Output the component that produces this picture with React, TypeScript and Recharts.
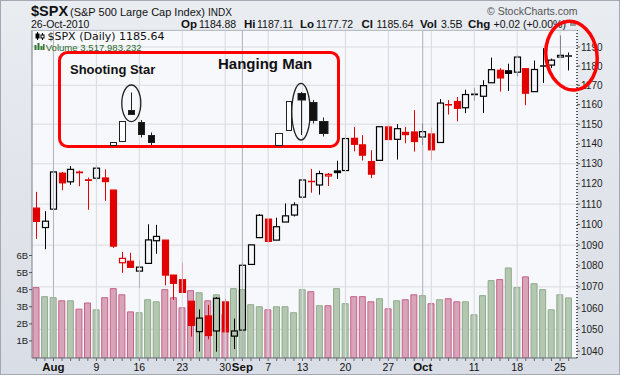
import React from "react";
import { ComposedChart, Bar, XAxis, YAxis, CartesianGrid, ReferenceLine, Cell } from "recharts";

const SANS = '"Liberation Sans", Arial, Helvetica, sans-serif';
const DEJA = '"DejaVu Sans", Verdana, sans-serif';
const RED = "#e20000";

// trading days 29 Jul - 26 Oct 2010
const days = [
  "7/29", "7/30", "8/2", "8/3", "8/4", "8/5", "8/6", "8/9", "8/10", "8/11",
  "8/12", "8/13", "8/16", "8/17", "8/18", "8/19", "8/20", "8/23", "8/24", "8/25",
  "8/26", "8/27", "8/30", "8/31", "9/1", "9/2", "9/3", "9/7", "9/8", "9/9",
  "9/10", "9/13", "9/14", "9/15", "9/16", "9/17", "9/20", "9/21", "9/22", "9/23",
  "9/24", "9/27", "9/28", "9/29", "9/30", "10/1", "10/4", "10/5", "10/6", "10/7",
  "10/8", "10/11", "10/12", "10/13", "10/14", "10/15", "10/18", "10/19", "10/20", "10/21",
  "10/22", "10/25", "10/26",
];
const opens = [
  1108, 1098.5, 1107.5, 1125.3, 1121, 1125.6, 1122.1, 1122.8, 1122.9, 1116.9,
  1081.5, 1082.2, 1077.5, 1081.2, 1092.1, 1092.4, 1075.6, 1073.4, 1063.2, 1049,
  1056.3, 1049.3, 1062.9, 1046.9, 1049.7, 1080.7, 1093.6, 1102.6, 1092.4, 1101.2,
  1104.6, 1113.4, 1121.2, 1119.4, 1123.9, 1126.4, 1126.6, 1142.8, 1139.5, 1131.1,
  1131.7, 1148.6, 1142.3, 1145.8, 1146, 1143.5, 1145, 1140.7, 1159.8, 1161.6,
  1158.4, 1165.3, 1164.3, 1171.3, 1177.8, 1177.5, 1176.8, 1178.6, 1166.7, 1179.8,
  1180.5, 1184.7, 1184.9,
];
const highs = [
  1116, 1106.5, 1127.3, 1125.9, 1128.8, 1126.6, 1123.1, 1129.2, 1127.2, 1116.9,
  1086.7, 1086.3, 1082.6, 1100.1, 1099.8, 1092.4, 1075.6, 1081.6, 1063.2, 1059.4,
  1061.5, 1065.2, 1064.4, 1055.1, 1081.3, 1090.1, 1105.1, 1102.6, 1103.3, 1110.3,
  1110.9, 1123.9, 1127.4, 1126.5, 1125.4, 1131.5, 1144.9, 1148.6, 1144.4, 1136.8,
  1148.9, 1149.9, 1150, 1148.6, 1157.2, 1150.3, 1148.2, 1162.8, 1162.3, 1163.9,
  1167.7, 1168.7, 1172.6, 1184.4, 1178.9, 1181.2, 1185.5, 1178.6, 1182.9, 1189.4,
  1183.9, 1196.1, 1187.1,
];
const lows = [
  1093, 1088, 1107.5, 1116.8, 1119.5, 1118.8, 1107.2, 1120.9, 1111.6, 1088.6,
  1076.7, 1079, 1069.5, 1081.2, 1085.8, 1070.7, 1063.9, 1067.1, 1046.7, 1039.8,
  1045.4, 1039.7, 1048.8, 1040.9, 1049.7, 1080.4, 1093.6, 1091.2, 1092.4, 1101.2,
  1103.9, 1113.4, 1115.6, 1114.6, 1118.9, 1122.4, 1126.6, 1136.2, 1131.6, 1122.8,
  1131.7, 1142, 1132.1, 1140.3, 1136.1, 1139.4, 1131.9, 1140.7, 1154.9, 1151.4,
  1155.6, 1162, 1155.7, 1171.3, 1166.7, 1167.1, 1174.6, 1159.7, 1166.7, 1171.2,
  1179, 1184.7, 1177.7,
];
const closes = [
  1101.5, 1101.6, 1125.9, 1120.5, 1127.2, 1125.8, 1121.6, 1127.8, 1121.1, 1089.5,
  1083.6, 1079.3, 1079.4, 1092.5, 1094.2, 1075.6, 1071.7, 1067.4, 1051.9, 1055.3,
  1047.2, 1064.6, 1048.9, 1049.3, 1080.3, 1090.1, 1104.5, 1091.8, 1098.9, 1104.2,
  1109.6, 1121.9, 1121.1, 1125.1, 1124.7, 1125.6, 1142.7, 1139.8, 1134.3, 1124.8,
  1148.7, 1142.2, 1147.7, 1144.7, 1141.2, 1146.2, 1137, 1160.8, 1160, 1158.1,
  1165.2, 1165.3, 1169.8, 1178.1, 1173.8, 1176.2, 1184.7, 1165.9, 1178.2, 1180.3,
  1183.1, 1185.62, 1185.64,
];
// volume in billions of shares
const volumes = [
  4.12, 3.59, 3.53, 3.35, 3.35, 2.86, 3.22, 2.82, 3.53, 4.06,
  3.7, 2.7, 2.65, 3.41, 3.29, 4.0, 3.53, 2.94, 3.94, 3.82,
  3.35, 3.7, 2.55, 4.06, 4.0, 3.12, 3.0, 2.82, 3.0, 3.0,
  2.65, 4.0, 3.88, 3.06, 3.06, 4.06, 3.18, 3.59, 3.59, 3.29,
  3.47, 2.88, 3.35, 3.41, 3.7, 3.65, 3.18, 3.41, 3.47, 3.29,
  3.29, 2.53, 3.65, 4.53, 4.59, 5.27, 4.12, 4.75, 4.35, 4.0,
  2.82, 3.7, 3.52,
];

const priceTicks = [1040, 1050, 1060, 1070, 1080, 1090, 1100, 1110, 1120, 1130, 1140, 1150, 1160, 1170, 1180, 1190];
const volTicks = [1, 2, 3, 4, 5, 6];
const labelDays = ["8/2", "8/9", "8/16", "8/23", "8/30", "9/1", "9/7", "9/13", "9/20", "9/27", "10/1", "10/11", "10/18", "10/25"];
const labelText = ["Aug", "9", "16", "23", "30", "Sep", "7", "13", "20", "27", "Oct", "11", "18", "25"];
const weekLines = ["8/2", "8/9", "8/16", "8/23", "8/30", "9/1", "9/7", "9/13", "9/20", "9/27", "10/1", "10/4", "10/11", "10/18", "10/25"];
const monthLines = ["8/2", "9/1", "10/1"];

const rows = days.map((d, i) => ({
  d,
  o: opens[i],
  h: highs[i],
  l: lows[i],
  c: closes[i],
  pc: i > 0 ? closes[i - 1] : opens[i],
  v: volumes[i],
}));

function Candle(props: any) {
  const { x, y, width, height, payload } = props;
  if (!payload || !(height > 0)) return <g />;
  const { o, h, l, c, pc } = payload;
  const span = Math.log(h) - Math.log(l);
  // position inside the bar's [low, high] pixel range, log scale
  const py = (v: number) => y + (height * (Math.log(h) - Math.log(v))) / span;
  const cx = Math.round(x + width / 2) + 0.5;
  const color = c < pc ? RED : "#000";
  const filled = c < o;
  const top = py(Math.max(o, c));
  const bot = py(Math.min(o, c));
  return (
    <g>
      <line x1={cx} x2={cx} y1={y} y2={top} stroke={color} />
      <line x1={cx} x2={cx} y1={bot} y2={y + height} stroke={color} />
      {bot - top < 1.5 ? (
        <line x1={cx - 3.5} x2={cx + 3.5} y1={(top + bot) / 2} y2={(top + bot) / 2} stroke={color} strokeWidth={1.6} />
      ) : (
        <rect x={cx - 3} y={top} width={6} height={bot - top} fill={filled ? color : "none"} stroke={color} strokeWidth={1.2} />
      )}
    </g>
  );
}

function DateTick(props: any) {
  const { x, y, payload } = props;
  const i = labelDays.indexOf(payload.value);
  if (i < 0) return <g />;
  const lab = labelText[i];
  const month = isNaN(Number(lab));
  return (
    <text x={x} y={y} dy={8} textAnchor="middle" fontFamily={SANS} fontSize={month ? 11.5 : 10.5} fontWeight={month ? 700 : 400} fill="#111">
      {lab}
    </text>
  );
}

function Overlay() {
  return (
    <svg width={620} height={375} style={{ position: "absolute", left: 0, top: 0, pointerEvents: "none" }}>
      {/* header */}
      <text x={31} y={16} fontFamily={SANS} fontSize={14.5} fontWeight={700} fill="#111">$SPX</text>
      <text x={70} y={16} fontFamily={SANS} fontSize={11} fill="#111">(S&amp;P 500 Large Cap Index)</text>
      <text x={208} y={16} fontFamily={SANS} fontSize={10} fill="#111">INDX</text>
      <text x={487} y={15} fontFamily={SANS} fontSize={10.5} fill="#555">© StockCharts.com</text>
      <rect x={570} y={23} width={6} height={3} fill="#999" />
      <text x={31} y={28} fontFamily={SANS} fontSize={10.5} fill="#111">26-Oct-2010</text>
      <g fontFamily={SANS} fill="#111">
        <text x={181} y={28} fontSize={11.5} fontWeight={700}>Op</text>
        <text x={199} y={28} fontSize={10.5}>1184.88</text>
        <text x={244} y={28} fontSize={11.5} fontWeight={700}>Hi</text>
        <text x={257} y={28} fontSize={10.5}>1187.11</text>
        <text x={300} y={28} fontSize={11.5} fontWeight={700}>Lo</text>
        <text x={316} y={28} fontSize={10.5}>1177.72</text>
        <text x={361.5} y={28} fontSize={11.5} fontWeight={700}>Cl</text>
        <text x={376.5} y={28} fontSize={10.5}>1185.64</text>
        <text x={420} y={28} fontSize={11.5} fontWeight={700}>Vol</text>
        <text x={441} y={28} fontSize={10.5}>3.5B</text>
        <text x={468} y={28} fontSize={11.5} fontWeight={700}>Chg</text>
        <text x={493.5} y={28} fontSize={10.5}>+0.02 (+0.00%)</text>
      </g>
      <line x1={32} x2={577} y1={30.5} y2={30.5} stroke="#b9bdc6" />

      {/* legend */}
      <g stroke="#000" fill="#000">
        <line x1={37.5} x2={37.5} y1={32} y2={40} />
        <rect x={36} y={34} width={3} height={4} />
        <line x1={42.5} x2={42.5} y1={33} y2={40} />
        <rect x={41} y={35} width={3} height={3} fill="#fff" />
      </g>
      <text x={47.5} y={40} fontFamily={DEJA} fontSize={11} fill="#111">$SPX (Daily) 1185.64</text>
      <g fill="#2f7a2f">
        <rect x={34.5} y={45} width={2} height={5} />
        <rect x={37.5} y={43} width={2} height={7} />
        <rect x={40.5} y={46} width={2} height={4} />
        <rect x={43} y={44} width={1.5} height={6} />
      </g>
      <text x={45.7} y={50.5} fontFamily={SANS} fontSize={9.6} fill="#2d6a2d">Volume 3,517,983,232</text>

      {/* annotation box */}
      <rect x={59.5} y={52.5} width={279} height={94} rx={8} fill="none" stroke="#ff0000" strokeWidth={3} />
      <text x={70} y={73.5} fontFamily={SANS} fontSize={13} fontWeight={700} fill="#111">Shooting Star</text>
      <text x={218} y={69} fontFamily={SANS} fontSize={15} fontWeight={700} fill="#111">Hanging Man</text>
      <g stroke="#222" strokeWidth={1}>
        {/* shooting star sketch */}
        <rect x={110.5} y={142.5} width={6} height={3} fill="#fff" />
        <rect x={119.5} y={121.5} width={6} height={20} fill="#fff" />
        <line x1={131.5} x2={131.5} y1={92.5} y2={111} />
        <rect x={128.5} y={110.5} width={6} height={4} fill="#111" />
        <ellipse cx={131.3} cy={103.3} rx={9.5} ry={18.3} fill="none" strokeWidth={1.3} />
        <line x1={141.5} x2={141.5} y1={120} y2={137.5} />
        <rect x={138.5} y={122.5} width={6} height={12} fill="#111" />
        <line x1={151.5} x2={151.5} y1={132.5} y2={145} />
        <rect x={148.5} y={135.5} width={6} height={7} fill="#111" />
        {/* hanging man sketch */}
        <rect x={275.5} y={133.5} width={7} height={12} fill="#fff" />
        <rect x={286.5} y={101.5} width={5} height={29} fill="#fff" />
        <line x1={301.5} x2={301.5} y1={92} y2={135} />
        <rect x={298} y={93.5} width={7.5} height={6.5} fill="#111" />
        <ellipse cx={301} cy={111.7} rx={9.2} ry={28.3} fill="none" strokeWidth={1.3} />
        <line x1={313.5} x2={313.5} y1={100} y2={123.5} />
        <rect x={309.5} y={102.5} width={7.5} height={18} fill="#111" />
        <line x1={323.5} x2={323.5} y1={117.5} y2={136.5} />
        <rect x={319.5} y={121.5} width={8.5} height={12} fill="#111" />
      </g>

      {/* highlight of the last two sessions */}
      <ellipse cx={571.5} cy={55.7} rx={25.5} ry={34.5} transform="rotate(-8 571.5 55.7)" fill="none" stroke="#ff0000" strokeWidth={3.5} />

      <rect x={0.5} y={0.5} width={619} height={374} fill="none" stroke="#a3a8b3" />
    </svg>
  );
}

export default function App() {
  return (
    <div style={{ position: "absolute", left: 0, top: 0, width: 620, height: 375, overflow: "hidden", background: "linear-gradient(#e9ecf1, #d9dde5)" }}>
      <ComposedChart width={620} height={375} data={rows} margin={{ top: 30, right: 0, bottom: 0, left: 0 }}>
        <CartesianGrid xAxisId="main" yAxisId="price" vertical={false} stroke="#d8dbe1" fill="#f7f8fb" />
        <XAxis
          xAxisId="main"
          dataKey="d"
          interval={0}
          height={17}
          padding={{ left: 0, right: 4 }}
          tick={DateTick}
          tickSize={3}
          tickLine={{ stroke: "#666" }}
          axisLine={{ stroke: "#6d717a" }}
        />
        <XAxis xAxisId="vol" dataKey="d" hide padding={{ left: 0, right: 4 }} />
        <YAxis
          yAxisId="vol"
          orientation="left"
          width={32}
          type="number"
          domain={[0, 19.2]}
          ticks={volTicks}
          allowDataOverflow
          tickFormatter={(v: number) => `${v}B`}
          tick={{ fontSize: 9.5, fill: "#222", fontFamily: SANS }}
          tickSize={3}
          tickMargin={1}
          tickLine={{ stroke: "#555" }}
          axisLine={{ stroke: "#7b7f88" }}
        />
        <YAxis
          yAxisId="price"
          orientation="right"
          width={43}
          type="number"
          scale="log"
          domain={[1036.8, 1199]}
          ticks={priceTicks}
          allowDataOverflow
          tick={{ fontSize: 10, fill: "#222", fontFamily: SANS }}
          tickSize={3}
          tickMargin={1}
          tickLine={{ stroke: "#555" }}
          axisLine={{ stroke: "#555", strokeWidth: 2, strokeDasharray: "1 2" }}
        />
        {weekLines.map((d) => (
          <ReferenceLine
            key={d}
            xAxisId="main"
            yAxisId="price"
            x={d}
            stroke={monthLines.includes(d) ? "#aeb2ba" : "#d6d9df"}
          />
        ))}
        <Bar xAxisId="vol" yAxisId="vol" dataKey="v" barSize={6} isAnimationActive={false}>
          {rows.map((r, i) => (
            <Cell
              key={i}
              fill={r.c < r.pc ? "#d8a4b7" : "#b4c7b0"}
              stroke={r.c < r.pc ? "#c7618a" : "#8fab8c"}
            />
          ))}
        </Bar>
        <Bar
          xAxisId="main"
          yAxisId="price"
          dataKey={(r: any) => [r.l, r.h]}
          barSize={6}
          shape={(p: any) => <Candle {...p} />}
          isAnimationActive={false}
        />
      </ComposedChart>
      <Overlay />
    </div>
  );
}
